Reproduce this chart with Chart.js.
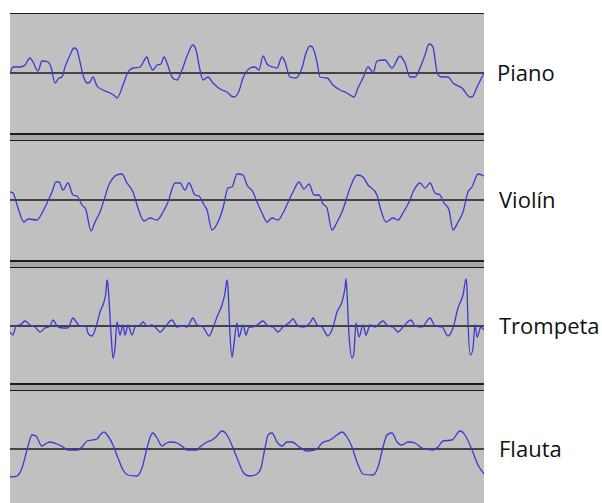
<!DOCTYPE html>
<html>
<head>
<meta charset="utf-8">
<script src="https://cdn.jsdelivr.net/npm/chart.js@4/dist/chart.umd.min.js"></script>
<style>
  html, body { margin: 0; padding: 0; background: #fff; overflow: hidden; }
  body { width: 602px; height: 503px; position: relative; }
  .panel { position: absolute; left: 10px; width: 474px; }
  .bar { position: absolute; left: 10px; width: 474px; background: #1c1c1c; }
  .strip { position: absolute; left: 10px; width: 474px; background: #a6a6a6; }
  .label { position: absolute; font-family: "Open Sans", sans-serif; font-size: 22px; color: #111; line-height: 1; }
</style>
</head>
<body>
<div class="bar" style="top:13px;height:1px"></div>

<div class="panel" style="top:14px;height:119px"><canvas id="c0" width="474" height="119"></canvas></div>
<div class="bar" style="top:133px;height:2px"></div>
<div class="strip" style="top:135px;height:5px"></div>
<div class="bar" style="top:140px;height:1px"></div>

<div class="panel" style="top:141px;height:119px"><canvas id="c1" width="474" height="119"></canvas></div>
<div class="bar" style="top:260px;height:2px"></div>
<div class="strip" style="top:262px;height:5px"></div>
<div class="bar" style="top:267px;height:1px"></div>

<div class="panel" style="top:268px;height:115px"><canvas id="c2" width="474" height="115"></canvas></div>
<div class="bar" style="top:383px;height:2px"></div>
<div class="strip" style="top:385px;height:5px"></div>
<div class="bar" style="top:390px;height:1px"></div>

<div class="panel" style="top:391px;height:116px"><canvas id="c3" width="474" height="116"></canvas></div>

<div class="label" style="left:497px;top:61px">Piano</div>
<div class="label" style="left:499px;top:188px">Violín</div>
<div class="label" style="left:499px;top:314px">Trompeta</div>
<div class="label" style="left:499px;top:437px">Flauta</div>

<script>
// instrument names
var instruments = ['Piano', 'Violín', 'Trompeta', 'Flauta'];

// Piano: time (samples) and amplitude
var pianoT = [0,3,10,15,20,23,28,32,38,41,45,49,52,55,60,64,67,70,73,77,80,83,87,93,100,105,107,113,118,123,130,137,139,143,147,151,154,157,162,167,172,177,183,186,190,193,198,203,210,217,223,227,230,233,240,245,249,253,257,263,267,272,275,280,286,292,296,300,303,307,310,317,323,330,337,344,348,353,358,361,363,367,375,382,390,395,400,405,410,415,419,423,427,432,438,443,452,460,462,467,474];
var pianoA = [0,6,6,8,15,11,2,12,11,6,-10,-5,-4,6,18,25,23,11,-2,-10,-9,-4,-13,-17,-20,-23,-25,-12,1,5,6,16,10,3,8,9,16,10,-4,-7,3,17,28,23,3,-7,-4,-10,-16,-19,-24,-22,-15,-5,5,6,3,17,9,6,5,16,11,-4,-5,5,20,27,25,11,-4,-5,-12,-17,-20,-24,-15,-5,6,3,0,12,13,5,17,10,-4,-4,5,18,29,26,1,-4,-4,-10,-15,-24,-24,-14,0];

// Violín
var violinT = [0,3,8,14,18,27,32,37,42,46,49,53,58,63,67,72,76,81,85,90,95,98,105,112,117,123,128,134,140,147,153,158,165,170,175,179,185,189,194,197,202,208,213,218,222,227,233,237,243,247,252,257,262,268,273,280,283,289,294,299,304,309,313,317,322,327,332,337,340,347,353,358,367,370,376,383,388,393,400,403,410,415,420,425,430,434,439,443,448,453,458,462,468,474];
var violinA = [8,7,-8,-22,-19,-20,-13,-3,8,18,18,10,17,5,4,-5,-10,-31,-22,-12,3,13,24,26,17,8,-8,-21,-18,-20,-12,-2,17,17,10,17,5,4,-5,-10,-30,-22,-8,12,13,26,25,15,8,-2,-13,-22,-18,-20,-13,2,8,18,11,16,5,5,-4,-8,-30,-22,-12,3,12,25,23,15,5,-7,-22,-18,-20,-13,0,8,17,12,17,7,5,-3,-10,-30,-22,-12,8,13,26,24];

// Trompeta
var trumpetT = [0,3,6,10,15,20,25,30,35,40,43,47,53,58,63,67,70,76,78,82,86,90,94,96,97,98,101,103,105,107,110,113,115,118,122,125,130,133,137,142,145,150,155,162,167,172,177,183,187,192,195,199,203,207,212,215,217,218,220,222,223,227,229,233,236,239,242,247,253,258,263,268,273,280,283,287,293,300,303,307,312,318,323,327,332,335,336,337,339,342,344,346,349,353,356,360,365,373,378,383,388,393,401,405,412,420,425,432,438,443,448,453,456,457,458,460,463,465,467,471,474];
var trumpetA = [-6,-9,0,1,5,1,-1,-6,-2,0,6,0,-2,-2,8,3,0,0,-7,-10,-1,14,24,34,46,41,-7,-32,-22,4,-9,1,-9,1,-9,-1,1,4,0,1,-1,-6,-1,6,-1,0,-1,8,1,0,-4,-10,-2,9,21,33,46,38,-9,-31,-26,3,-11,1,-9,-1,-1,1,5,0,-1,-6,-1,4,7,1,-1,3,8,1,-1,-10,-1,14,24,38,47,34,-9,-32,-26,3,-11,1,-9,1,-1,5,0,-1,-6,-1,6,0,-1,8,0,-1,-10,-2,18,31,47,38,4,-29,-22,1,-11,-1,-4];

// Flauta
var fluteT = [0,7,12,17,22,26,32,37,40,47,53,58,68,72,77,87,90,94,98,103,108,113,118,127,132,137,141,143,147,152,155,160,167,173,177,187,190,197,202,206,212,217,223,229,233,240,247,251,255,258,262,267,272,277,282,288,297,307,312,320,327,332,337,342,347,353,363,368,373,377,382,387,392,398,405,412,423,428,433,442,450,455,462,468,474];
var fluteA = [-28,-27,-19,-1,14,13,3,6,7,5,2,-1,-1,2,8,10,14,17,13,4,-9,-21,-26,-27,-19,1,14,16,11,3,5,7,6,2,-1,-1,2,7,9,12,18,14,1,-14,-23,-27,-25,-19,1,14,16,7,3,7,7,3,-2,0,6,9,14,17,12,2,-13,-25,-26,-18,2,14,16,7,4,7,6,1,-1,2,8,9,18,14,-1,-16,-25];

var series = [[pianoT, pianoA], [violinT, violinA], [trumpetT, trumpetA], [fluteT, fluteA]];
var yLimits = [[-60, 59], [-60, 59], [-57, 58], [-58, 58]];

// gray background and the zero line
var panelPlugin = {
  id: 'panel',
  beforeDraw: function(chart) {
    var ctx = chart.ctx;
    ctx.save();
    ctx.fillStyle = '#c0c0c0';
    ctx.fillRect(0, 0, chart.width, chart.height);
    ctx.restore();
  },
  beforeDatasetsDraw: function(chart) {
    var ctx = chart.ctx;
    var y = chart.scales.y.getPixelForValue(0);
    ctx.save();
    ctx.strokeStyle = '#1a1a1a';
    ctx.lineWidth = 1.6;
    ctx.beginPath();
    ctx.moveTo(0, y);
    ctx.lineTo(chart.width, y);
    ctx.stroke();
    ctx.restore();
  }
};

series.forEach(function(s, i) {
  var pts = s[0].map(function(t, k) { return { x: t, y: s[1][k] }; });
  new Chart(document.getElementById('c' + i), {
    type: 'line',
    data: {
      datasets: [{
        label: instruments[i],
        data: pts,
        borderColor: '#3a3ad2',
        borderWidth: 1.3,
        pointRadius: 0,
        cubicInterpolationMode: 'monotone',
        fill: false
      }]
    },
    options: {
      responsive: false,
      animation: false,
      layout: { padding: 0 },
      plugins: { legend: { display: false }, tooltip: { enabled: false } },
      scales: {
        x: { type: 'linear', min: 0, max: 474, display: false },
        y: { min: yLimits[i][0], max: yLimits[i][1], display: false }
      }
    },
    plugins: [panelPlugin]
  });
});
</script>
</body>
</html>
